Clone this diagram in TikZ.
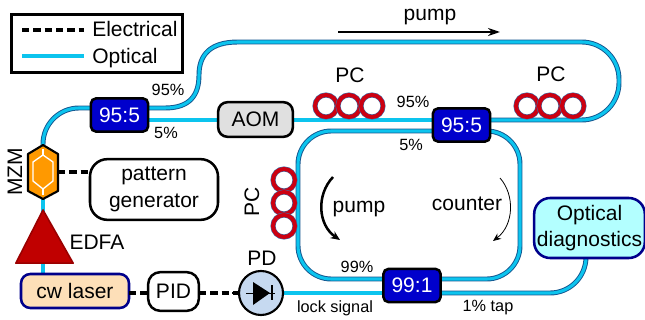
\documentclass[tikz,border=0pt]{standalone}
\usepackage{fontspec}
\setmainfont{Liberation Sans}
\usetikzlibrary{calc,backgrounds,arrows.meta}
\definecolor{fibdark}{HTML}{14568F}
\definecolor{fibcyan}{HTML}{0CC4EE}
\definecolor{bsblue}{HTML}{0000CC}
\definecolor{navy}{HTML}{00008B}
\definecolor{mzmor}{HTML}{FF9900}
\definecolor{edfared}{HTML}{C00000}
\definecolor{laserfill}{HTML}{FDDFB8}
\definecolor{diagfill}{HTML}{B3FFFF}
\definecolor{aomfill}{HTML}{E0E0E0}
\definecolor{pdfill}{HTML}{C6D9F0}
\definecolor{pcblue}{HTML}{3A6EA8}
\definecolor{pcred}{HTML}{CC0011}
\tikzset{
  bigtxt/.style={font=\fontsize{15.75}{20}\selectfont, inner sep=0pt, align=center},
  smalltxt/.style={font=\fontsize{12.2}{15}\selectfont, inner sep=0pt},
  box/.style={draw, rounded corners=#1, line width=1.9pt, inner sep=0pt, outer sep=0pt, font=\fontsize{15.75}{20}\selectfont, align=center},
  splitter/.style={box=4pt, fill=bsblue, text=white, minimum width=43pt, minimum height=25pt},
  fibre/.style={draw=fibdark, line width=3.7pt, line join=round,
    postaction={draw=fibcyan, line width=2.3pt}},
  elec/.style={draw=black, line width=2.4pt, dash pattern=on 5.5pt off 3pt},
  ringpc/.style={circle, minimum size=16.5pt, inner sep=0pt, outer sep=0pt, draw=pcblue, fill=white, line width=3.8pt,
    postaction={draw=pcred, line width=3pt}},
  ghost/.style={inner sep=0pt, outer sep=0pt},
}
\begin{document}
\begin{tikzpicture}[x=0.75pt,y=-0.75pt]
\useasboundingbox (0,0) rectangle (645,320);
% legend
\node[draw, line width=2.2pt, ghost, minimum width=128pt, minimum height=44pt] (legend) at (97,43.5) {};
\coordinate (el) at (22,30); \coordinate (er) at (84,30);
\coordinate (ol) at (22,56); \coordinate (or) at (84,56);
\draw[elec] (el) -- (er);
\path[fibre] (ol) -- (or);
\node[bigtxt, anchor=west] (telec) at (92,29) {Electrical};
\node[bigtxt, anchor=west] (topt) at (92,58) {Optical};
% main nodes
\node[splitter] (bsa) at (119.5,115) {95:5};
\node[splitter] (bsb) at (461.5,125) {95:5};
\node[splitter] (bsc) at (412,285.5) {99:1};
\node[box=7pt, fill=aomfill, minimum width=56pt, minimum height=26pt] (aom) at (255.5,119.5) {AOM};
\node[box=13pt, fill=white, minimum width=96pt, minimum height=45.5pt] (pg) at (154,189.5) {pattern\\generator};
\node[box=7pt, draw=navy, fill=laserfill, minimum width=81pt, minimum height=25.5pt] (laser) at (75,291) {cw laser};
\node[box=9pt, fill=white, minimum width=38pt, minimum height=29pt] (pid) at (173.5,291.5) {PID};
\node[box=12pt, draw=navy, fill=diagfill, minimum width=83pt, minimum height=45pt] (diag) at (589.5,228) {Optical\\[0pt]diagnostics};
\node[circle, draw, fill=pdfill, line width=1.6pt, minimum size=33pt, ghost] (pd) at (261,293) {};
% MZM
\node[ghost, minimum width=22.5pt, minimum height=40.5pt] (mzm) at (43,172) {};
\draw[line width=1.6pt, fill=mzmor, line join=round]
  (mzm.north) -- (58,154) -- (58,191) -- (mzm.south) -- (28,191) -- (28,154) -- cycle;
\draw[white, line width=1pt, line join=round] (43,155) -- (53,162) -- (53,181) -- (43,189) -- (33,181) -- (33,162) -- cycle;
\draw[white, line width=1pt] (43,149) -- (43,155) (43,189) -- (43,195);
% EDFA
\node[ghost, minimum width=43pt, minimum height=40pt] (edfa) at (44.5,236.5) {};
\draw[draw=edfared!80!black, line width=1.2pt, fill=edfared, line join=round]
  (43,210) -- (edfa.south east) -- (edfa.south west) -- cycle;
% PD symbol
\draw[line width=.7pt] (246,293) -- (275,293);
\fill (253,282) -- (270,293) -- (253,305) -- cycle;
\draw[line width=1.3pt] (272,285) -- (272,300);
% polarisation controllers
\foreach \n/\x in {a/326,b/349,c/372} \node[ringpc] (pca\n) at (\x,106) {};
\foreach \n/\x in {a/527,b/550,c/573} \node[ringpc] (pcb\n) at (\x,106) {};
\foreach \n/\y in {a/180,b/203,c/226} \node[ringpc] (pcc\n) at (284,\y) {};
% fibres
\begin{scope}[on background layer]
  \coordinate (a1) at (43,108);
  \path[fibre, rounded corners=27pt] (mzm.north) -- (a1) -- ($(bsa.west)+(0,-7)$);
  \path[fibre] ($(bsa.east)+(0,-7)$) -- (165,108) .. controls (190,108) and (199,95) .. (199,75)
     .. controls (199,55) and (210,42) .. (238,42) coordinate (t0);
  \coordinate (t1) at (619,42); \coordinate (t2) at (619,120);
  \path[fibre, rounded corners=28pt] (t0) -- (t1) -- (t2) -- ($(bsb.east)+(0,-5)$);
  \path[fibre] ($(bsa.east)+(0,5)$) -- ($(aom.west)+(0,0.5)$);
  \path[fibre] ($(aom.east)+(0,0.5)$) -- ($(bsb.west)+(0,-5)$);
  \coordinate (l1) at (298,131); \coordinate (l2) at (298,279);
  \path[fibre, rounded corners=25pt] ($(bsb.west)+(0,6)$) -- (l1) -- (l2) -- ($(bsc.west)+(0,-6.5)$);
  \coordinate (r1) at (520,131); \coordinate (r2) at (520,279);
  \path[fibre, rounded corners=25pt] ($(bsb.east)+(0,6)$) -- (r1) -- (r2) -- ($(bsc.east)+(0,-6.5)$);
  \path[fibre] (pd.east) -- ($(bsc.west)+(0,7.5)$);
  \coordinate (d1) at (586,293);
  \path[fibre, rounded corners=27pt] ($(bsc.east)+(0,7.5)$) -- (d1) -- (diag.south -| d1);
  \path[fibre] (mzm.south) -- (43,212);
  \path[fibre] (43,262) -- (43,275);
\end{scope}
% electrical
\draw[elec] (58,172) -- (pg.west |- 58,172);
\draw[elec] ($(laser.east)+(0,2)$) -- ($(pid.west)+(0,1.5)$);
\draw[elec] ($(pid.east)+(0,1.5)$) -- (pd.west);
\coordinate (pdst) at (232,293);
\draw[line width=2.2pt] (pdst) -- (pd.west);
% direction arrows
\coordinate (pa0) at (338,32); \coordinate (pa1) at (500,32);
\draw[line width=2.2pt, -{Stealth[length=9pt,width=6pt]}] (pa0) -- (pa1);
\coordinate (pb0) at (333,177); \coordinate (pb1) at (340,240);
\draw[line width=1.9pt, -{Stealth[length=7pt,width=6pt]}] (pb0) .. controls (316,195) and (318,225) .. (pb1);
\coordinate (pc0) at (500,178); \coordinate (pc1) at (493,241);
\draw[line width=.6pt, -{Stealth[length=6pt,width=5pt]}] (pc0) .. controls (515,195) and (514,225) .. (pc1);
% labels
\node[bigtxt] (tpump) at (430,17) {pump};
\node[bigtxt] (tpca) at (350,75) {PC};
\node[bigtxt] (tpcb) at (551,74) {PC};
\node[bigtxt, rotate=90] (tpcc) at (252,202) {PC};
\node[bigtxt, rotate=90] (tmzm) at (15,172) {MZM};
\node[bigtxt] (tedfa) at (97,242) {EDFA};
\node[bigtxt] (tpd) at (262,258) {PD};
\node[bigtxt] (tpin) at (359,209) {pump};
\node[bigtxt] (tcnt) at (467,204) {counter};
\node[smalltxt] (p1) at (168,90) {95\%};
\node[smalltxt] (p2) at (166,133) {5\%};
\node[smalltxt] (p3) at (413,102) {95\%};
\node[smalltxt] (p4) at (411,145) {5\%};
\node[smalltxt] (p5) at (357,267) {99\%};
\node[smalltxt] (p6) at (335,308) {lock signal};
\node[smalltxt] (p7) at (488,308) {1\% tap};
\end{tikzpicture}
\end{document}
